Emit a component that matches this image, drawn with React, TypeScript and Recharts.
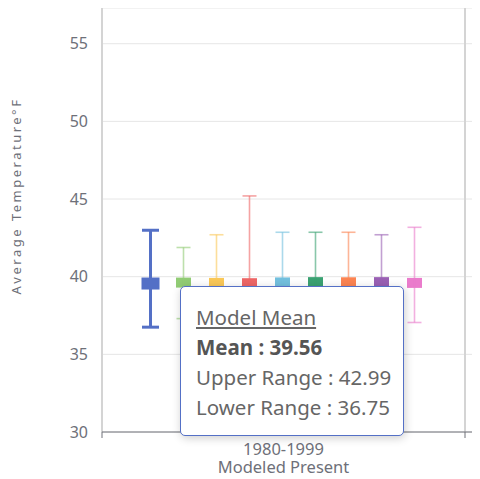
import React from "react";
import {
  Bar,
  CartesianGrid,
  ComposedChart,
  ErrorBar,
  ReferenceLine,
  Tooltip,
  XAxis,
  YAxis,
} from "recharts";

const periods = ["1980-1999"];
const periodNotes = ["Modeled Present"];
const seriesNames = [
  "Model Mean",
  "Model 1",
  "Model 2",
  "Model 3",
  "Model 4",
  "Model 5",
  "Model 6",
  "Model 7",
  "Model 8",
];
const meanValues = [39.56, 39.62, 39.6, 39.58, 39.63, 39.65, 39.64, 39.65, 39.6];
const upperValues = [42.99, 41.88, 42.7, 45.2, 42.86, 42.86, 42.86, 42.7, 43.18];
const lowerValues = [36.75, 37.3, 36.9, 36.0, 36.6, 36.8, 36.5, 36.9, 37.05];
const yTicks = [30, 35, 40, 45, 50, 55];

const colors = [
  "#5470c6",
  "#91cc75",
  "#fac858",
  "#ee6666",
  "#73c0de",
  "#3ba272",
  "#fc8452",
  "#9a60b4",
  "#ea7ccc",
];

const FONT = "'Noto Sans', 'Open Sans', sans-serif";
const AXIS_TEXT = "#6e7079";

const rows = periods.map((period, p) => {
  const row: Record<string, unknown> = { period, note: periodNotes[p] };
  seriesNames.forEach((_, i) => {
    row[`m${i}`] = meanValues[i];
    row[`e${i}`] = [meanValues[i] - lowerValues[i], upperValues[i] - meanValues[i]];
  });
  return row;
});

// mean marker: small square sitting on the top edge of the (invisible) bar
function meanMarker(big: boolean) {
  return (props: any) => {
    const { x, y, width, fill } = props;
    const w = big ? 18 : 15;
    const h = big ? 12 : 10;
    return <rect x={x + width / 2 - w / 2} y={y - h / 2} width={w} height={h} fill={fill} />;
  };
}

// category boundary: light split line over the plot + short dark tick under the axis
function EdgeLine(props: any) {
  const { x1, y1, x2, y2 } = props;
  const top = Math.min(y1, y2);
  const bottom = Math.max(y1, y2);
  return (
    <g>
      <line x1={x1} y1={top} x2={x2} y2={bottom} stroke="#d4d4d4" strokeWidth={2} />
      <line x1={x1} y1={bottom} x2={x2} y2={bottom + 6} stroke={AXIS_TEXT} strokeWidth={1} />
    </g>
  );
}

function PeriodTick(props: any) {
  const { x, y, payload, index } = props;
  return (
    <text x={x} y={y} textAnchor="middle" fill={AXIS_TEXT} fontSize={16.5}>
      <tspan x={x} dy={15}>{payload.value}</tspan>
      <tspan x={x} dy={18}>{periodNotes[index] ?? periodNotes[0]}</tspan>
    </text>
  );
}

function YTitle(props: any) {
  const { viewBox } = props;
  const cx = viewBox.x + 13;
  const cy = viewBox.y + viewBox.height / 2 - 24;
  return (
    <text
      x={cx}
      y={cy}
      transform={`rotate(-90 ${cx} ${cy})`}
      textAnchor="middle"
      fill={AXIS_TEXT}
      fontSize={13}
      letterSpacing={2.5}
    >
      Average Temperature°F
    </text>
  );
}

function TipBox() {
  return (
    <div
      style={{
        width: 224,
        height: 150,
        boxSizing: "border-box",
        background: "#fff",
        border: "1px solid #5470c6",
        borderRadius: 5,
        padding: "15px 15px",
        fontFamily: FONT,
        fontSize: 20.5,
        lineHeight: "30px",
        color: "#666",
        boxShadow: "1px 2px 10px rgba(0,0,0,0.2)",
        whiteSpace: "nowrap",
      }}
    >
      <div style={{ textDecoration: "underline" }}>{seriesNames[0]}</div>
      <div style={{ fontWeight: 700, color: "#555" }}>Mean : {meanValues[0].toFixed(2)}</div>
      <div>Upper Range : {upperValues[0].toFixed(2)}</div>
      <div>Lower Range : {lowerValues[0].toFixed(2)}</div>
    </div>
  );
}

export default function App() {
  return (
    <div style={{ width: 472, height: 471, fontFamily: FONT }}>
      <style>{"html,body{overflow:hidden}"}</style>
      <ComposedChart
        width={472}
        height={471}
        data={rows}
        margin={{ top: 0, right: 0, bottom: 0, left: 0 }}
        barCategoryGap={32}
        barGap={0}
      >
        <CartesianGrid vertical={false} stroke="#e6e6e6" />
        <XAxis
          dataKey="period"
          height={47}
          padding={{ left: 0, right: 15 }}
          interval={0}
          axisLine={{ stroke: AXIS_TEXT }}
          tickLine={false}
          tick={<PeriodTick />}
        />
        <YAxis
          type="number"
          domain={[30, 57.3]}
          ticks={yTicks}
          width={94}
          axisLine={false}
          tickLine={false}
          tickMargin={8}
          tick={{ fontSize: 16, fill: AXIS_TEXT }}
          label={YTitle}
        />
        <ReferenceLine x={periods[0]} position="start" shape={EdgeLine} />
        <ReferenceLine x={periods[0]} position="end" shape={EdgeLine} />
        <Tooltip
          active
          defaultIndex={0}
          cursor={false}
          isAnimationActive={false}
          position={{ x: 172, y: 278 }}
          content={<TipBox />}
        />
        {seriesNames.map((name, i) => (
          <Bar
            key={name}
            name={name}
            dataKey={`m${i}`}
            fill={colors[i]}
            shape={meanMarker(i === 0)}
            isAnimationActive={false}
          >
            <ErrorBar
              dataKey={`e${i}`}
              direction="y"
              width={i === 0 ? 8.5 : 7}
              stroke={colors[i]}
              strokeOpacity={i === 0 ? 1 : 0.6}
              strokeWidth={i === 0 ? 3 : 1.6}
              isAnimationActive={false}
            />
          </Bar>
        ))}
      </ComposedChart>
    </div>
  );
}
